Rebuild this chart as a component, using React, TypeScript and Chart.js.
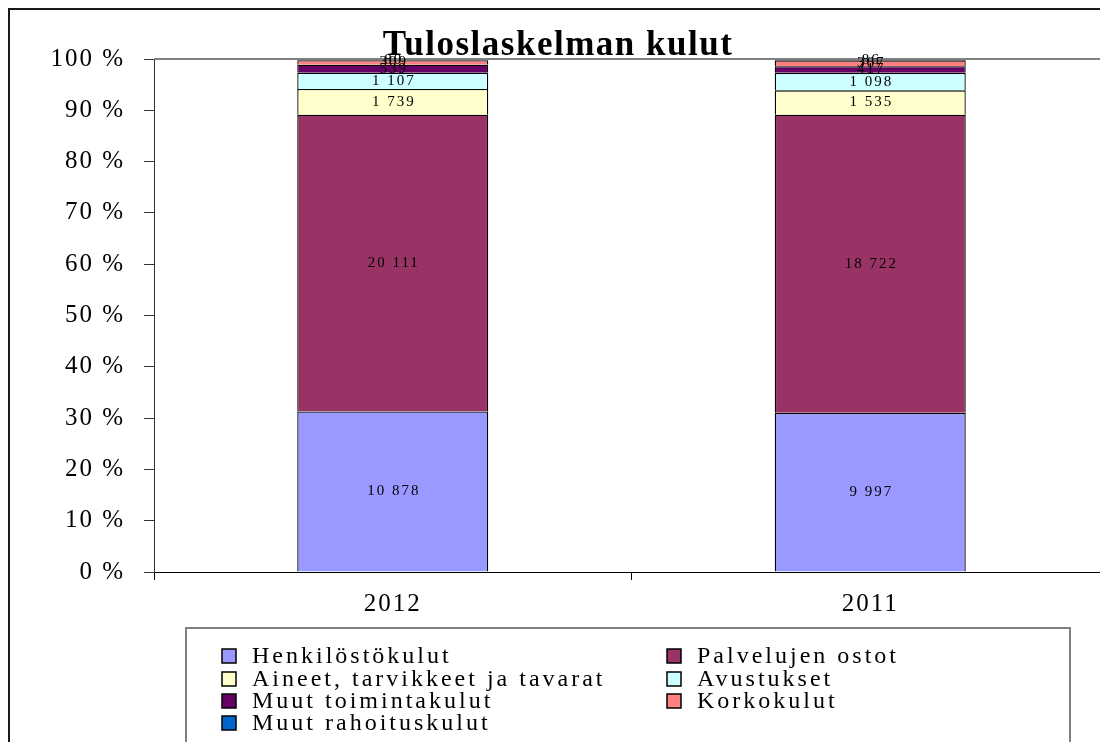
import React, { useEffect, useRef } from "react";
import { Chart, registerables } from "chart.js";

Chart.register(...registerables);

const categories = ["2012", "2011"];
const seriesNames = [
  "Henkilöstökulut",
  "Palvelujen ostot",
  "Aineet, tarvikkeet ja tavarat",
  "Avustukset",
  "Muut toimintakulut",
  "Korkokulut",
  "Muut rahoituskulut",
];
const henkilostokulut = [10878, 9997];
const palvelujenOstot = [20111, 18722];
const aineet = [1739, 1535];
const avustukset = [1107, 1098];
const muutToimintakulut = [539, 417];
const korkokulut = [309, 367];
const muutRahoituskulut = [80, 86];
const seriesColors = ["#9999FF", "#993366", "#FFFFCC", "#CCFFFF", "#660066", "#FF8080", "#0066CC"];
const yTicks = [0, 10, 20, 30, 40, 50, 60, 70, 80, 90, 100];
const title = "Tuloslaskelman kulut";

const allSeries = [henkilostokulut, palvelujenOstot, aineet, avustukset, muutToimintakulut, korkokulut, muutRahoituskulut];

const fmt = (n: number) => String(n).replace(/\B(?=(\d{3})+(?!\d))/g, " ");

export default function App() {
  const ref = useRef<HTMLCanvasElement>(null);
  useEffect(() => {
    const totals = categories.map((_, i) => allSeries.reduce((s, arr) => s + arr[i], 0));
    const datasets = allSeries.map((arr, k) => ({
      label: seriesNames[k],
      data: arr.map((v, i) => (v / totals[i]) * 100),
      raw: arr,
      backgroundColor: seriesColors[k],
      borderColor: "#000",
      borderWidth: 1.3,
      categoryPercentage: 1,
      barPercentage: 0.4,
    }));

    const deco = {
      id: "deco",
      beforeDraw(chart: any) {
        const ctx = chart.ctx;
        ctx.save();
        ctx.fillStyle = "#fff";
        ctx.fillRect(0, 0, chart.width, chart.height);
        ctx.strokeStyle = "#1a1a1a";
        ctx.lineWidth = 2;
        ctx.strokeRect(1, 1, chart.width + 10, chart.height + 10);
        ctx.restore();
        (ctx as any).letterSpacing = "2px";
      },
      afterDatasetsDraw(chart: any) {
        const ctx = chart.ctx;
        const a = chart.chartArea;
        ctx.save();
        ctx.strokeStyle = "#808080";
        ctx.lineWidth = 2;
        ctx.beginPath();
        ctx.moveTo(a.left, a.top);
        ctx.lineTo(chart.width, a.top);
        ctx.stroke();
        ctx.fillStyle = "#000";
        ctx.font = "15px 'Liberation Serif'";
        (ctx as any).letterSpacing = "2px";
        ctx.textAlign = "center";
        ctx.textBaseline = "middle";
        chart.data.datasets.forEach((ds: any, di: number) => {
          const meta = chart.getDatasetMeta(di);
          meta.data.forEach((el: any, i: number) => {
            const y = (el.y + el.base) / 2;
            ctx.fillText(fmt(ds.raw[i]), el.x + 1, y);
          });
        });
        ctx.restore();
      },
      afterDraw(chart: any) {
        const ctx = chart.ctx;
        ctx.save();
        ctx.fillStyle = "#000";
        ctx.font = "bold 35px 'Liberation Serif'";
        (ctx as any).letterSpacing = "1.5px";
        ctx.textAlign = "center";
        ctx.textBaseline = "alphabetic";
        ctx.fillText(title, 550, 47);
        const bx = 178, by = 620;
        ctx.strokeStyle = "#808080";
        ctx.lineWidth = 2;
        ctx.strokeRect(bx, by, 884, 300);
        ctx.font = "24px 'Liberation Serif'";
        (ctx as any).letterSpacing = "3px";
        ctx.textAlign = "left";
        ctx.textBaseline = "middle";
        const colX = [214, 659];
        const rowY = [648, 671, 693, 715];
        chart.data.datasets.forEach((ds: any, i: number) => {
          const cx = colX[i % 2];
          const cy = rowY[Math.floor(i / 2)];
          ctx.fillStyle = ds.backgroundColor;
          ctx.fillRect(cx, cy - 7, 14, 14);
          ctx.strokeStyle = "#000";
          ctx.lineWidth = 1.5;
          ctx.strokeRect(cx, cy - 7, 14, 14);
          ctx.fillStyle = "#000";
          ctx.fillText(ds.label, cx + 30, cy + 1);
        });
        ctx.restore();
      },
    };

    const chart = new Chart(ref.current!, {
      type: "bar",
      data: { labels: categories, datasets: datasets as any },
      options: {
        animation: false,
        responsive: false,
        devicePixelRatio: 1,
        layout: { padding: { left: 0, right: 29, top: 51, bottom: 146 } },
        plugins: { legend: { display: false }, title: { display: false }, tooltip: { enabled: false } },
        scales: {
          x: {
            stacked: true,
            afterFit(scale: any) {
              scale.height = 50;
            },
            grid: { offset: true, drawOnChartArea: false, tickLength: 8, color: "#000" },
            border: { color: "#000", width: 1 },
            ticks: { color: "#000", font: { family: "'Liberation Serif'", size: 25 }, padding: 9 },
          },
          y: {
            stacked: true,
            min: 0,
            max: 100,
            afterFit(scale: any) {
              scale.width = 146;
            },
            afterBuildTicks(scale: any) {
              scale.ticks = yTicks.map((v) => ({ value: v }));
            },
            grid: { drawOnChartArea: false, tickLength: 10, color: "#333" },
            border: { color: "#333", width: 1 },
            ticks: {
              color: "#000",
              font: { family: "'Liberation Serif'", size: 25 },
              padding: 19,
              callback: (v: any) => v + " %",
            },
          },
        },
      },
      plugins: [deco],
    });
    return () => chart.destroy();
  }, []);

  return (
    <div style={{ position: "fixed", left: 8, top: 8, width: 1092, height: 734, overflow: "hidden", background: "#fff" }}>
      <canvas ref={ref} width={1130} height={760} style={{ display: "block" }} />
    </div>
  );
}
